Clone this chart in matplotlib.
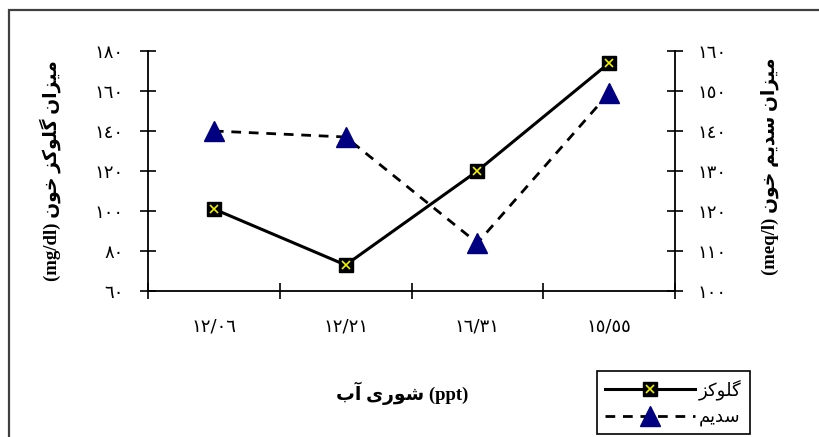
import matplotlib
matplotlib.use("Agg")
import matplotlib.pyplot as plt
from matplotlib.lines import Line2D
from matplotlib.patches import Rectangle

# salinity groups (ppt) and measured blood values
salinity = ["12/06", "12/21", "16/31", "15/55"]
glucose = [101, 73, 120, 174]        # mg/dl, left axis
sodium = [140, 138.5, 112, 149.5]    # meq/l, right axis

glucose_ticks = [60, 80, 100, 120, 140, 160, 180]
sodium_ticks = [100, 110, 120, 130, 140, 150, 160]

W, H = 819, 437

# minimal arabic shaping: char -> (isolated, final, initial, medial)
_FORMS = {
    "\u0627": ("\uFE8D", "\uFE8E"),
    "\u0622": ("\uFE81", "\uFE82"),
    "\u0628": ("\uFE8F", "\uFE90", "\uFE91", "\uFE92"),
    "\u062E": ("\uFEA5", "\uFEA6", "\uFEA7", "\uFEA8"),
    "\u062F": ("\uFEA9", "\uFEAA"),
    "\u0631": ("\uFEAD", "\uFEAE"),
    "\u0632": ("\uFEAF", "\uFEB0"),
    "\u0633": ("\uFEB1", "\uFEB2", "\uFEB3", "\uFEB4"),
    "\u0634": ("\uFEB5", "\uFEB6", "\uFEB7", "\uFEB8"),
    "\u0644": ("\uFEDD", "\uFEDE", "\uFEDF", "\uFEE0"),
    "\u0645": ("\uFEE1", "\uFEE2", "\uFEE3", "\uFEE4"),
    "\u0646": ("\uFEE5", "\uFEE6", "\uFEE7", "\uFEE8"),
    "\u0648": ("\uFEED", "\uFEEE"),
    "\u06CC": ("\uFEEF", "\uFEF0", "\uFEF3", "\uFEF4"),
    "\u06A9": ("\uFB8E", "\uFB8F", "\uFB90", "\uFB91"),
    "\u06AF": ("\uFB92", "\uFB93", "\uFB94", "\uFB95"),
}


def rtl(text):
    """Shape persian text and return it in visual (left-to-right) order."""
    out = []
    for i, ch in enumerate(text):
        forms = _FORMS.get(ch)
        if forms is None:
            out.append(ch)
            continue
        prev = text[i - 1] if i > 0 else ""
        nxt = text[i + 1] if i + 1 < len(text) else ""
        join_prev = prev in _FORMS and len(_FORMS[prev]) == 4
        join_next = len(forms) == 4 and nxt in _FORMS
        if join_prev and join_next:
            out.append(forms[3])
        elif join_prev:
            out.append(forms[1])
        elif join_next:
            out.append(forms[2])
        else:
            out.append(forms[0])
    return "".join(out)[::-1]


_DIGITS = str.maketrans("0123456789", "\u0660\u0661\u0662\u0663\u0664\u0665\u0666\u0667\u0668\u0669")


def ar_num(s):
    return str(s).translate(_DIGITS)


SERIF_AR = ["Liberation Serif", "DejaVu Sans"]
plt.rcParams["font.family"] = ["DejaVu Sans"]

fig = plt.figure(figsize=(W / 100, H / 100), dpi=100)
ax = fig.add_axes([148 / W, 1 - 291 / H, (675 - 148) / W, (291 - 51) / H])
ax2 = ax.twinx()

x = list(range(len(salinity)))

ax.plot(x, glucose, color="black", lw=2.2, zorder=3)
sq, = ax.plot(x, glucose, ls="none", marker="s", ms=9.5, mfc="black",
              mec="black", zorder=4)
cr, = ax.plot(x, glucose, ls="none", marker="x", ms=6, mec="#f0f000",
              mew=1.2, zorder=5)
gl_line = Line2D([], [], color="black", lw=2.2)

na_line, = ax2.plot(x, sodium, color="black", lw=2.0, dashes=(3.5, 2.8),
                    marker="^", ms=14, mfc="#000080", mec="#000080", zorder=3)

ax.set_xlim(-0.5, 3.5)
ax.set_ylim(60, 180)
ax2.set_ylim(100, 160)

ax.set_xticks([-0.5, 0.5, 1.5, 2.5, 3.5])
ax.set_xticklabels([])
ax.set_xticks(x, minor=True)
ax.set_xticklabels([ar_num(s) for s in salinity], minor=True, fontsize=13)
ax.tick_params(axis="x", which="major", direction="inout", length=11, width=1.2)
ax.tick_params(axis="x", which="minor", length=0, pad=19)

ax.set_yticks(glucose_ticks)
ax.set_yticklabels([ar_num(v) for v in glucose_ticks], fontsize=13)
ax.tick_params(axis="y", direction="inout", length=11, width=1.2, pad=12)
ax2.set_yticks(sodium_ticks)
ax2.set_yticklabels([ar_num(v) for v in sodium_ticks], fontsize=13)
ax2.tick_params(axis="y", direction="inout", length=11, width=1.2, pad=11)

for a in (ax, ax2):
    a.spines["top"].set_visible(False)
    for s in ("left", "right", "bottom"):
        a.spines[s].set_linewidth(1.3)
ax.spines["right"].set_visible(False)
ax2.spines["left"].set_visible(False)
ax2.spines["bottom"].set_visible(False)

fig.text(50 / W, 1 - 171 / H, "(mg/dl) " + rtl("میزان گلوکز خون"),
         rotation=90, ha="center", va="center", fontsize=13.5,
         fontweight="bold", family=SERIF_AR)
fig.text(770 / W, 1 - 166 / H, "(meq/l) " + rtl("میزان سدیم خون"),
         rotation=90, ha="center", va="center", fontsize=13.5,
         fontweight="bold", family=SERIF_AR)
fig.text(402 / W, 1 - 393 / H, rtl("شوری آب") + " (ppt)",
         ha="center", va="center", fontsize=13.5, fontweight="bold",
         family=SERIF_AR)

leg = fig.legend([(gl_line, sq, cr), na_line], [rtl("گلوکز"), rtl("سدیم")],
                 loc="upper left", bbox_to_anchor=(597 / W, 1 - 371 / H),
                 borderaxespad=0, fancybox=False, framealpha=1,
                 edgecolor="black", handlelength=5.0, numpoints=1,
                 fontsize=13, labelspacing=0.45, handletextpad=0.2,
                 borderpad=0.45)
leg.get_frame().set_linewidth(1.2)

fig.patches.append(Rectangle((9 / W, -0.1), 1.1, 1 - 10 / H + 0.1,
                             transform=fig.transFigure, fill=False,
                             edgecolor="#404040", lw=1.6))

fig.savefig("out.png", dpi=100)
